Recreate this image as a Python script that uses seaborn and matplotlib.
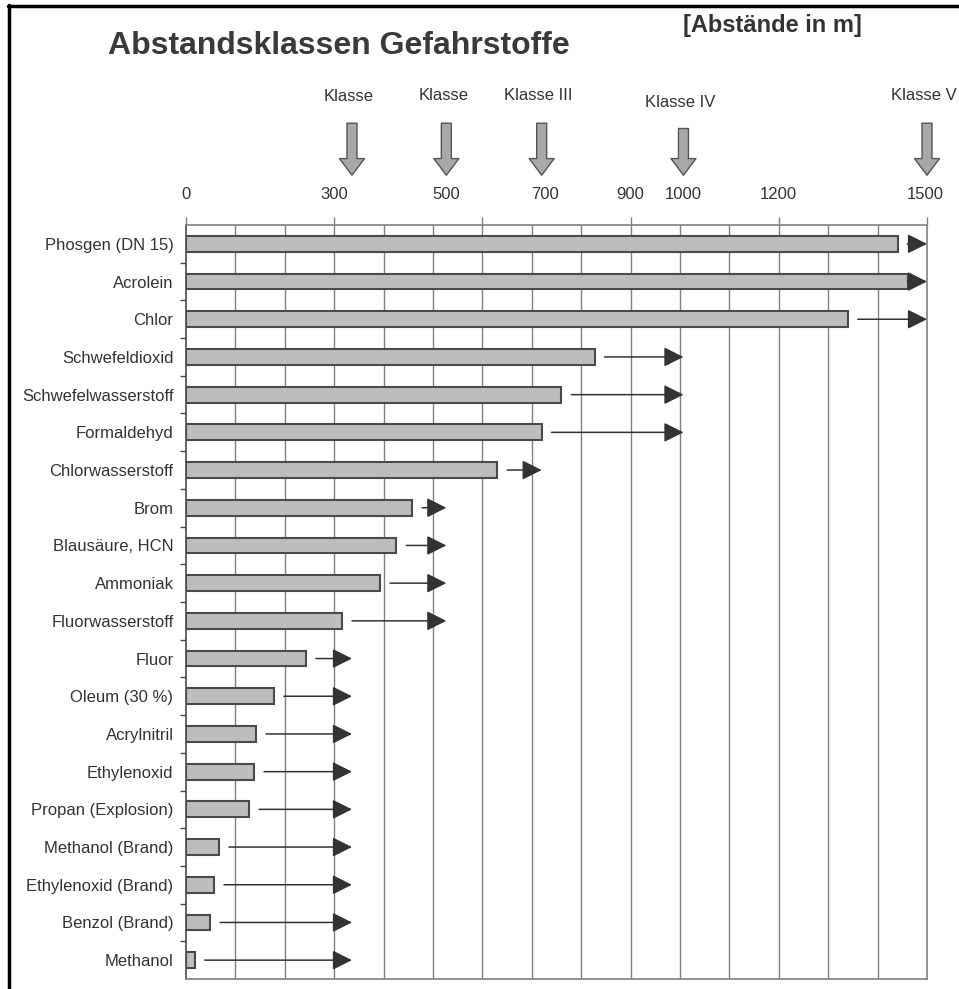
"""
Abstandsklassen Gefahrstoffe - horizontal bar chart with class arrows.
"""

import numpy as np
import pandas as pd
import matplotlib
matplotlib.use("Agg")
import matplotlib.pyplot as plt
from matplotlib.lines import Line2D
import seaborn as sns


# ---------------------------------------------------------------------------
# Data
# ---------------------------------------------------------------------------

substances = [
    "Phosgen (DN 15)", "Acrolein", "Chlor", "Schwefeldioxid",
    "Schwefelwasserstoff", "Formaldehyd", "Chlorwasserstoff", "Brom",
    "Blausäure, HCN", "Ammoniak", "Fluorwasserstoff", "Fluor",
    "Oleum (30 %)", "Acrylnitril", "Ethylenoxid", "Propan (Explosion)",
    "Methanol (Brand)", "Ethylenoxid (Brand)", "Benzol (Brand)", "Methanol",
]
distances = [1441, 1462, 1340, 827, 760, 720, 630, 458, 426, 393,
             316, 243, 178, 142, 138, 128, 67, 57, 49, 18]
# index into the class lists below
class_index = [4, 4, 4, 3, 3, 3, 2, 1, 1, 1,
               1, 0, 0, 0, 0, 0, 0, 0, 0, 0]

class_names = ["Klasse", "Klasse", "Klasse III", "Klasse IV", "Klasse V"]
class_values = [300, 500, 700, 1000, 1500]

axis_labels = ["0", "300", "500", "700", "900", "1000", "1200", "1500"]

# ---------------------------------------------------------------------------
# Layout (where things sit in the scanned original)
# ---------------------------------------------------------------------------

label_pos = [0, 300, 527, 727, 900, 1007, 1200, 1497]
class_marker_pos = [336, 527, 720, 1007, 1500]
class_label_y = [1.170, 1.172, 1.172, 1.163, 1.172]
class_arrow_top = [1.135, 1.135, 1.135, 1.128, 1.135]

TEXT = "#333333"
BAR = "#bdbdbd"
EDGE = "#4a4a4a"
GRID = "#808080"

sns.set_theme(style="white")
plt.rcParams["font.family"] = ["Liberation Sans", "DejaVu Sans"]

df = pd.DataFrame({"Stoff": substances, "Abstand": distances})

fig = plt.figure(figsize=(9.59, 9.89), dpi=100)
ax = fig.add_axes([186 / 959, 10 / 989, 741 / 959, 754 / 989])

sns.barplot(data=df, x="Abstand", y="Stoff", orient="h", color=BAR,
            saturation=1, edgecolor=EDGE, linewidth=1.5, width=0.42, ax=ax,
            zorder=3)

ax.set_xlim(0, 1500)
ax.set_ylim(len(substances) - 0.5, -0.5)
ax.set_xlabel("")
ax.set_ylabel("")

# vertical grid every 100 m
for gx in np.arange(100, 1500, 100):
    ax.axvline(gx, color=GRID, linewidth=1.0, zorder=1)

# small marks on top every 300 m, numbers written above
ax.xaxis.set_ticks_position("top")
ax.set_xticks(np.arange(0, 1501, 300))
ax.set_xticklabels([])
ax.tick_params(axis="x", which="major", length=6, width=1, color=GRID,
               top=True, bottom=False)

trans = ax.get_xaxis_transform()
for x, lab in zip(label_pos, axis_labels):
    ax.text(x, 1.040, lab, transform=trans, ha="center", va="center",
            fontsize=12, color=TEXT, clip_on=False)

# y labels, ticks between categories
ax.tick_params(axis="y", which="major", length=0, pad=9, labelsize=12,
               labelcolor=TEXT)
ax.set_yticks(np.arange(len(substances) - 1) + 0.5, minor=True)
ax.tick_params(axis="y", which="minor", length=4, width=1, color=EDGE,
               left=True)

for side in ["top", "right", "bottom"]:
    ax.spines[side].set_color(GRID)
    ax.spines[side].set_linewidth(1.2)
ax.spines["left"].set_color(EDGE)
ax.spines["left"].set_linewidth(1.2)

# horizontal arrows from bar end to class distance
for i, (d, c) in enumerate(zip(distances, class_index)):
    tip = class_marker_pos[c]
    start = min(d + 20, tip - 40)
    ax.annotate("", xy=(tip, i), xytext=(start, i),
                arrowprops=dict(arrowstyle="-|>,head_length=0.6,head_width=0.3",
                                mutation_scale=20, color="#333333", lw=1.1,
                                shrinkA=0, shrinkB=0),
                zorder=4, annotation_clip=False)

# class markers above the axis
for name, x, ly, top in zip(class_names, class_marker_pos, class_label_y,
                            class_arrow_top):
    ax.text(x - 6, ly, name, transform=trans, ha="center", va="center",
            fontsize=12, color=TEXT, clip_on=False)
    ax.annotate("", xy=(x, 1.066), xytext=(x, top), xycoords=trans,
                textcoords=trans,
                arrowprops=dict(arrowstyle="simple,head_length=0.6,head_width=0.9,tail_width=0.36",
                                mutation_scale=20, facecolor="#a8a8a8",
                                edgecolor="#555555", lw=1.0,
                                shrinkA=0, shrinkB=0),
                annotation_clip=False)

# titles
fig.text(108 / 959, 1 - 54 / 989, "Abstandsklassen Gefahrstoffe",
         fontsize=23, fontweight="bold", color="#3a3a3a", va="baseline")
fig.text(683 / 959, 1 - 32 / 989, "[Abstände in m]",
         fontsize=17, fontweight="bold", color="#333333", va="baseline")

# black frame of the scanned page (top and left)
fig.add_artist(Line2D([8 / 959, 1], [1 - 6 / 989, 1 - 6 / 989],
                      transform=fig.transFigure, color="black", lw=2.5))
fig.add_artist(Line2D([9 / 959, 9 / 959], [0, 1 - 5 / 989],
                      transform=fig.transFigure, color="black", lw=2.5))

fig.savefig("out.png", dpi=100)
plt.close(fig)
